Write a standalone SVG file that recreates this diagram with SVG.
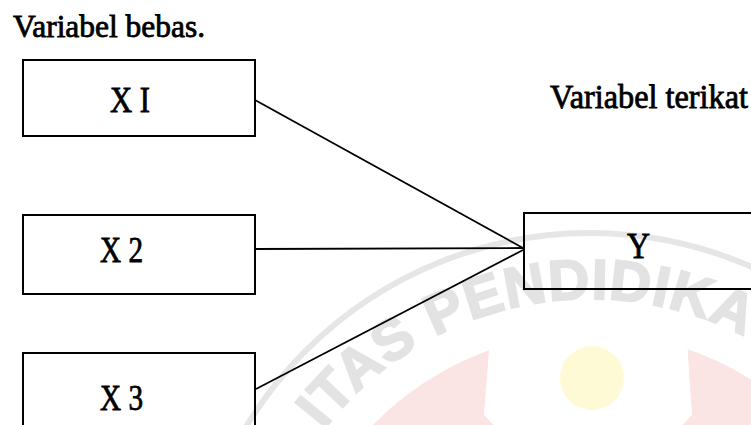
<svg xmlns="http://www.w3.org/2000/svg" width="751" height="425" viewBox="0 0 751 425">
<style>
.box{fill:none;stroke:#000;stroke-width:2}
.lbl{font-family:"Liberation Serif","Times New Roman",serif;fill:#000;stroke:#000;stroke-width:0.8}
.conn{stroke:#000;stroke-width:1.8;fill:none}
.wm{font-family:"Liberation Sans",Arial,sans-serif;font-weight:bold;fill:#e3e3e3;stroke:#e3e3e3;stroke-width:2;letter-spacing:1px}
</style>
<defs>
<path id="wmArc" d="M254 635 A336 336 0 0 1 926 635"/>
</defs>
<rect width="751" height="425" fill="#fff"/>
<g id="watermark">
<circle cx="590" cy="635" r="302" fill="#fbe4e4"/>
<polygon points="491,325 686,325 692,415 676,432 500,432 484,415" fill="#fff"/>
<circle cx="592" cy="378" r="32" fill="#fffad6"/>
<circle cx="590" cy="635" r="402" fill="none" stroke="#e6e6e6" stroke-width="6"/>
<text class="wm" font-size="57"><textPath href="#wmArc" startOffset="220">ITAS PENDIDIKA</textPath></text>
</g>
<g id="connectors">
<line class="conn" x1="255" y1="100" x2="523" y2="248"/>
<line class="conn" x1="255" y1="249" x2="523" y2="248"/>
<line class="conn" x1="256" y1="389" x2="523" y2="250"/>
</g>
<g id="title-bebas"><text class="lbl" x="13" y="36.5" font-size="32" textLength="192" lengthAdjust="spacingAndGlyphs">Variabel bebas.</text></g>
<g id="title-terikat"><text class="lbl" x="550" y="108" font-size="34" textLength="198" lengthAdjust="spacingAndGlyphs">Variabel terikat</text></g>
<g id="X1">
<rect class="box" x="23" y="60" width="232" height="76"/>
<text class="lbl" x="110" y="111.5" font-size="35" textLength="40" lengthAdjust="spacingAndGlyphs">X I</text>
</g>
<g id="X2">
<rect class="box" x="23" y="215" width="232" height="79"/>
<text class="lbl" x="100" y="261.5" font-size="36" textLength="43" lengthAdjust="spacingAndGlyphs">X 2</text>
</g>
<g id="X3">
<rect class="box" x="23" y="353" width="232" height="100"/>
<text class="lbl" x="100" y="410" font-size="36" textLength="43" lengthAdjust="spacingAndGlyphs">X 3</text>
</g>
<g id="Y">
<rect class="box" x="524" y="213" width="260" height="76"/>
<text class="lbl" x="627" y="258" font-size="35" textLength="23" lengthAdjust="spacingAndGlyphs">Y</text>
</g>
</svg>
